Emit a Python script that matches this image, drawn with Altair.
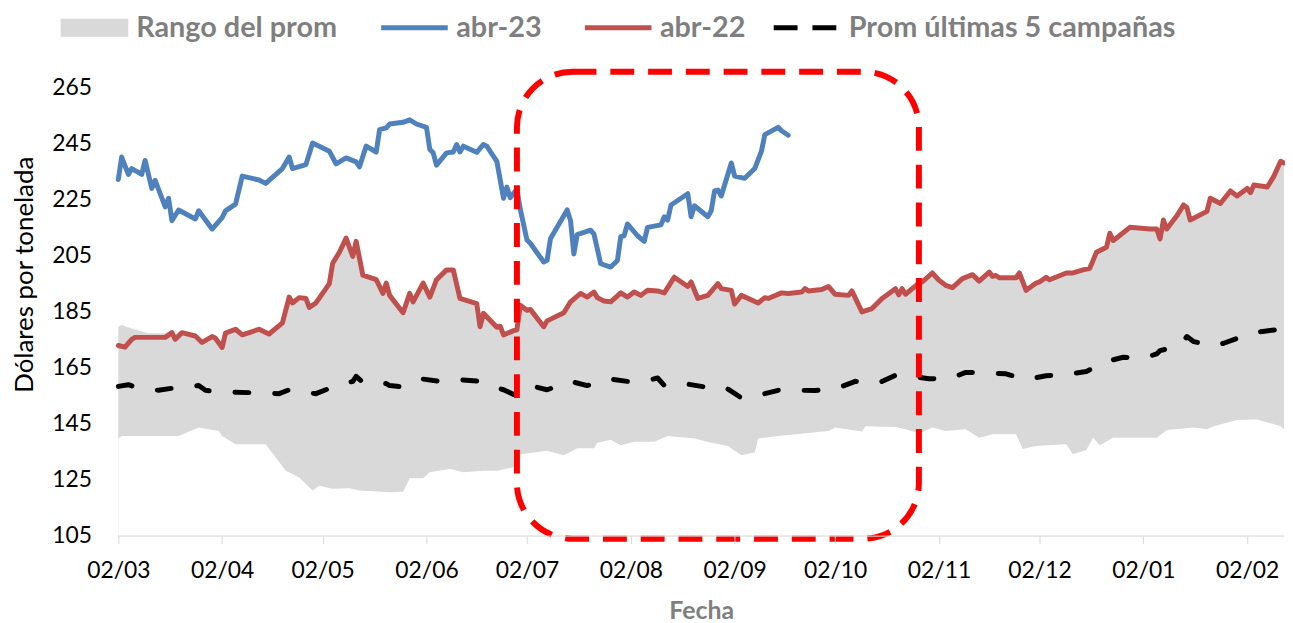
import altair as alt
import pandas as pd

BASE = pd.Timestamp("2023-03-02")

# ---- series (days since 02/03/2023, USD/t) ----
abr23_days = [0, 1, 3, 4, 7, 8, 10, 11, 14, 15, 16, 18, 23, 24, 28, 31, 32, 35, 37, 42, 44, 49, 51, 52,
              56, 58, 63, 65, 68, 71, 72, 74, 77, 78, 80, 81, 85, 87, 89, 92, 93, 94, 95, 98, 100, 101,
              102, 103, 107, 109, 110, 113, 115, 116, 117, 119, 120, 122, 123, 127, 128, 129, 134, 135,
              136, 137, 141, 142, 144, 147, 149, 150, 151, 152, 155, 157, 158, 162, 163, 164, 165, 170,
              171, 172, 176, 177, 178, 179, 180, 183, 184, 187, 190, 192, 193, 197, 198, 200]
abr23_vals = [232.2, 240.2, 234.0, 236.1, 234.0, 239.0, 229.0, 231.9, 222.4, 225.5, 217.5, 221.3, 218.1,
              221.0, 214.5, 218.6, 221.0, 223.4, 233.4, 232.0, 230.8, 236.1, 240.2, 236.1, 237.5, 245.2,
              242.3, 237.8, 239.9, 238.5, 236.7, 244.1, 242.0, 250.0, 250.6, 252.0, 252.6, 253.5, 252.0,
              250.8, 242.9, 241.7, 237.3, 241.7, 242.0, 244.7, 242.0, 244.1, 241.9, 244.7, 244.1, 238.7,
              225.5, 229.5, 225.7, 228.7, 221.6, 210.6, 209.4, 202.7, 203.3, 211.0, 221.3, 217.5, 205.6,
              212.5, 214.1, 212.7, 202.1, 200.9, 203.3, 211.8, 212.1, 216.3, 212.1, 210.1, 215.1, 216.0,
              218.9, 217.7, 223.1, 227.1, 218.9, 222.8, 218.9, 221.0, 228.1, 228.4, 226.3, 238.1, 233.4,
              232.6, 236.1, 242.3, 248.2, 250.8, 249.6, 248.0]

abr22_days = [0, 2, 4, 5, 14, 16, 17, 19, 23, 25, 28, 29, 31, 32, 35, 37, 42, 45, 49, 51, 52, 54, 56, 57,
              59, 63, 64, 66, 68, 70, 71, 73, 77, 79, 80, 81, 85, 87, 88, 91, 93, 95, 98, 100, 102, 107,
              108, 109, 113, 114, 115, 118, 119, 120, 122, 123, 127, 128, 133, 135, 138, 140, 142, 143,
              145, 147, 150, 152, 154, 156, 158, 161, 163, 166, 170, 171, 173, 176, 179, 180, 183, 184,
              186, 191, 193, 194, 198, 200, 204, 205, 206, 210, 212, 214, 218, 219, 222, 225, 228, 232,
              233, 234, 235, 239, 240, 243, 245, 247, 249, 252, 255, 257, 260, 261, 262, 263, 268, 269,
              271, 274, 275, 277, 278, 283, 285, 288, 290, 291, 292, 295, 296, 297, 298, 302, 308, 310,
              311, 312, 313, 316, 318, 319, 320, 325, 326, 329, 332, 334, 337, 338, 339, 343, 345, 347, 348]
abr22_vals = [172.9, 172.3, 175.1, 175.8, 175.8, 177.5, 175.1, 177.5, 176.3, 174.0, 176.1, 175.5, 172.2,
              177.3, 178.7, 176.7, 178.7, 177.0, 181.0, 190.2, 188.1, 190.0, 189.7, 186.5, 188.1, 195.0,
              202.3, 206.2, 211.3, 204.7, 210.1, 198.0, 196.4, 191.5, 195.2, 190.8, 184.6, 191.5, 188.5,
              195.2, 190.2, 196.4, 199.9, 199.9, 189.7, 187.9, 179.6, 184.4, 179.4, 179.8, 176.7, 178.2,
              178.5, 187.3, 185.5, 185.8, 179.6, 181.7, 184.6, 188.5, 191.5, 190.2, 192.0, 190.0, 188.8,
              188.5, 191.7, 190.2, 192.0, 190.8, 192.6, 192.4, 191.7, 197.3, 194.0, 195.6, 189.7, 190.8,
              195.0, 193.2, 192.6, 187.7, 190.8, 188.1, 190.0, 189.7, 191.7, 191.5, 192.0, 193.2, 192.4,
              192.9, 194.0, 191.2, 190.8, 192.4, 184.9, 186.1, 189.7, 193.2, 191.0, 193.2, 191.2, 195.2,
              195.6, 198.8, 196.2, 194.4, 193.6, 196.8, 198.2, 195.9, 199.1, 197.6, 197.9, 197.1, 197.1,
              198.8, 192.6, 195.2, 195.6, 197.3, 196.4, 198.8, 198.8, 199.9, 200.5, 203.3, 206.2, 208.0,
              213.0, 210.4, 211.3, 215.1, 214.5, 214.5, 211.0, 217.7, 214.5, 219.2, 223.1, 222.2, 217.7,
              220.8, 225.5, 223.6, 228.1, 226.3, 229.0, 227.5, 230.2, 229.5, 233.4, 238.7, 238.1]

prom_days = [0, 3, 5, 12, 17, 24, 26, 29, 35, 41, 48, 51, 53, 59, 64, 70, 71, 73, 80, 81, 85, 91, 96,
             102, 108, 113, 115, 118, 123, 128, 135, 140, 147, 152, 159, 161, 163, 169, 175, 181, 186,
             192, 197, 204, 208, 215, 220, 227, 232, 237, 242, 248, 253, 260, 265, 271, 277, 283, 289,
             295, 300, 306, 310, 311, 317, 319, 321, 327, 330, 336, 339, 347, 348]
prom_vals = [158.3, 158.9, 158.1, 156.9, 157.8, 158.6, 156.9, 156.5, 156.2, 156.0, 155.7, 157.1, 156.5,
             155.7, 158.1, 160.1, 161.9, 159.7, 159.3, 158.6, 158.1, 160.9, 160.1, 160.7, 160.1, 157.8,
             157.1, 155.4, 158.6, 157.1, 160.1, 158.6, 160.9, 160.1, 160.7, 161.3, 158.6, 159.3, 158.1,
             158.1, 154.2, 155.4, 156.9, 156.9, 156.8, 157.8, 160.1, 159.5, 162.3, 161.9, 161.0, 161.0,
             163.3, 163.1, 162.8, 160.7, 162.1, 162.5, 163.6, 167.2, 168.7, 168.4, 169.9, 171.1, 172.8,
             176.1, 174.3, 172.8, 173.7, 176.3, 177.5, 178.7, 178.5]

# range of the average: top (start of season, then it meets abr-22) and bottom
rango_sup_ini_days = [0, 1, 4, 9, 14]
rango_sup_ini_vals = [179.6, 180.2, 179.0, 177.3, 177.3]
rango_inf_days = [0, 1, 18, 24, 27, 30, 31, 35, 44, 50, 54, 58, 60, 64, 69, 72, 81, 85, 87, 91, 93, 99,
                  103, 109, 113, 118, 119, 120, 128, 133, 137, 142, 143, 147, 150, 154, 160, 164, 172,
                  177, 182, 186, 190, 191, 197, 212, 214, 222, 223, 232, 235, 239, 243, 247, 253, 257,
                  261, 268, 270, 274, 283, 285, 289, 291, 293, 297, 310, 313, 321, 325, 327, 334, 340,
                  347, 348]
rango_inf_vals = [139.7, 140.6, 140.6, 143.6, 143.0, 142.4, 140.6, 137.6, 137.6, 128.2, 125.8, 121.1,
                  122.8, 121.7, 121.9, 121.1, 120.5, 120.7, 125.5, 125.5, 127.6, 128.8, 127.6, 128.2,
                  128.2, 129.4, 129.9, 134.1, 135.3, 133.7, 136.2, 136.2, 138.2, 139.2, 137.3, 138.5,
                  138.5, 140.6, 139.7, 138.2, 137.0, 133.7, 134.7, 139.7, 140.6, 142.4, 143.6, 142.2,
                  144.1, 143.8, 143.0, 141.5, 143.6, 142.4, 143.0, 140.0, 141.2, 141.2, 135.9, 137.0,
                  137.6, 134.1, 135.6, 140.0, 137.3, 140.0, 140.0, 142.7, 143.6, 143.0, 144.1, 146.3,
                  146.5, 144.1, 142.9]

# highlighted window (dashed rounded box)
caja_dias = [119, 239]
caja_vals = [270.7, 103.9]

serie_rango = "Rango del prom"
series_lin = ["abr-23", "abr-22"]
serie_prom = "Prom últimas 5 campañas"
color_rango = "#d9d9d9"
colores_lin = ["#4f81bd", "#c0504d"]
color_prom = "#000000"
y_ticks = [105, 125, 145, 165, 185, 205, 225, 245, 265]
meses = [(2023, m) for m in range(3, 13)] + [(2024, 1), (2024, 2)]


def fechas(d):
    return BASE + pd.to_timedelta(d, unit="D")


lineas = pd.concat([
    pd.DataFrame({"fecha": fechas(abr22_days), "valor": abr22_vals, "serie": "abr-22"}),
    pd.DataFrame({"fecha": fechas(abr23_days), "valor": abr23_vals, "serie": "abr-23"}),
])
prom = pd.DataFrame({"fecha": fechas(prom_days), "valor": prom_vals, "serie": serie_prom})

sup_days = rango_sup_ini_days + [d for d in abr22_days if d >= 16]
sup_vals = rango_sup_ini_vals + [v for d, v in zip(abr22_days, abr22_vals) if d >= 16]
banda_sup = pd.DataFrame({"fecha": fechas(sup_days), "valor": sup_vals, "serie": serie_rango})
banda_inf = pd.DataFrame({"fecha": fechas(rango_inf_days), "valor": rango_inf_vals})
caja = pd.DataFrame({"x1": [fechas([caja_dias[0]])[0]], "x2": [fechas([caja_dias[1]])[0]],
                     "y1": [caja_vals[0]], "y2": [caja_vals[1]]})

FONT = "Lato"
xscale = alt.Scale(domain=[alt.DateTime(year=2023, month=3, date=2),
                           alt.DateTime(year=2024, month=2, date=13)])
yscale = alt.Scale(domain=[105, 275], zero=False, nice=False)
xaxis = alt.Axis(values=[alt.DateTime(year=y, month=m, date=2) for y, m in meses], format="%d/%m",
                 labelFont=FONT, labelFontSize=23, labelColor="black", labelPadding=16,
                 labelOverlap=False, labelFlush=False,
                 tickSize=8, tickColor="#d9d9d9", domainColor="#d9d9d9", grid=False,
                 title="Fecha", titleFont=FONT, titleFontSize=25, titleFontWeight="bold",
                 titleColor="#7f7f7f", titleY=83, titleBaseline="alphabetic", zindex=1)
yaxis = alt.Axis(values=y_ticks, domain=False, ticks=True, tickSize=20, tickColor="transparent",
                 grid=False, labelFont=FONT, labelFontSize=23, labelColor="black", labelPadding=7,
                 title="Dólares por tonelada", titleFont=FONT, titleFontSize=26,
                 titleFontWeight="normal", titleColor="black", titleX=-86, titleY=216,
                 titleAngle=270, titleAlign="center", titleBaseline="alphabetic")

leg_comun = dict(title=None, orient="none", direction="horizontal", padding=0,
                 labelFont=FONT, labelFontSize=29, labelFontWeight="bold", labelColor="#7f7f7f",
                 labelLimit=600, symbolOpacity=1)

leg_rango = alt.Legend(legendX=-58, legendY=-66, symbolType="M-1,-0.265H1V0.265H-1Z", symbolSize=4624,
                       symbolStrokeWidth=0, labelOffset=8, **leg_comun)
leg_lin = alt.Legend(legendX=262, legendY=-68, symbolType="stroke", symbolSize=4489,
                     symbolStrokeWidth=5, labelOffset=6, columnPadding=32, **leg_comun)
leg_prom = alt.Legend(legendX=657, legendY=-68, symbolType="stroke", symbolSize=4489,
                      symbolStrokeWidth=5, symbolDash=[24, 15], labelOffset=6, **leg_comun)

X = alt.X("fecha:T", scale=xscale, axis=xaxis)
Y = alt.Y("valor:Q", scale=yscale, axis=yaxis)

area_sup = alt.Chart(banda_sup).mark_area(opacity=1).encode(
    x=X, y=Y, y2=alt.datum(105),
    fill=alt.Fill("serie:N", scale=alt.Scale(domain=[serie_rango], range=[color_rango]),
                  legend=leg_rango))
area_inf = alt.Chart(banda_inf).mark_area(color="white", opacity=1).encode(x=X, y=Y, y2=alt.datum(105))
lineas_ch = alt.Chart(lineas).mark_line(strokeWidth=5, strokeJoin="round", strokeCap="round").encode(
    x=X, y=Y,
    color=alt.Color("serie:N", scale=alt.Scale(domain=series_lin, range=colores_lin), legend=leg_lin))
prom_ch = alt.Chart(prom).mark_line(strokeWidth=5, strokeDash=[14, 26], strokeCap="round",
                                    strokeJoin="round").encode(
    x=X, y=Y,
    stroke=alt.Stroke("serie:N", scale=alt.Scale(domain=[serie_prom], range=[color_prom]),
                      legend=leg_prom))
caja_ch = alt.Chart(caja).mark_rect(fillOpacity=0, stroke="#ff0000", strokeWidth=6,
                                    strokeDash=[24, 14], cornerRadius=56).encode(
    x=alt.X("x1:T", scale=xscale, axis=xaxis), x2="x2:T",
    y=alt.Y("y1:Q", scale=yscale, axis=yaxis), y2="y2:Q")

chart = alt.layer(area_sup, area_inf, lineas_ch, prom_ch, caja_ch).resolve_legend(
    fill="independent", color="independent", stroke="independent"
).properties(
    width=1173, height=479, autosize="none",
    padding={"left": 111, "top": 50, "right": 1, "bottom": 90},
    background="white",
).configure_view(stroke=None)

chart.save("out.html", embed_options={"renderer": "svg", "actions": False})
